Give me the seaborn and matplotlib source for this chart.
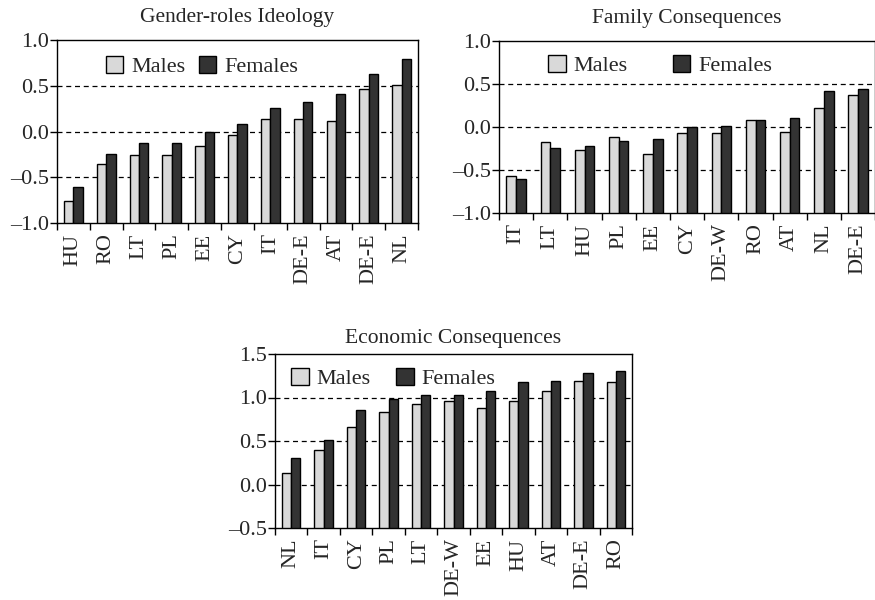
import numpy as np
import pandas as pd
import matplotlib
matplotlib.use("Agg")
import matplotlib.pyplot as plt
import seaborn as sns
from matplotlib.patches import Patch

sns.set_theme(style="white")
plt.rcParams['font.family'] = ['Liberation Serif', 'DejaVu Serif']

# ---- data ----
gender_labels = ["HU", "RO", "LT", "PL", "EE", "CY", "IT", "DE-E", "AT", "DE-E", "NL"]
gender_males = [-0.755, -0.35, -0.26, -0.26, -0.16, -0.04, 0.14, 0.14, 0.12, 0.47, 0.51]
gender_females = [-0.61, -0.245, -0.125, -0.125, 0.0, 0.08, 0.26, 0.325, 0.405, 0.63, 0.79]

family_labels = ["IT", "LT", "HU", "PL", "EE", "CY", "DE-W", "RO", "AT", "NL", "DE-E"]
family_males = [-0.565, -0.18, -0.265, -0.115, -0.31, -0.073, -0.073, 0.077, -0.054, 0.226, 0.375]
family_females = [-0.605, -0.24, -0.22, -0.16, -0.14, -0.005, 0.01, 0.077, 0.10, 0.42, 0.44]

econ_labels = ["NL", "IT", "CY", "PL", "LT", "DE-W", "EE", "HU", "AT", "DE-E", "RO"]
econ_males = [0.13, 0.40, 0.665, 0.83, 0.92, 0.96, 0.875, 0.96, 1.07, 1.195, 1.175]
econ_females = [0.30, 0.51, 0.855, 0.985, 1.03, 1.03, 1.07, 1.18, 1.195, 1.285, 1.305]

series_names = ["Males", "Females"]
colors = {"Males": "#d9d9d9", "Females": "#333333"}

fig = plt.figure(figsize=(8.75, 6.0), dpi=100)

FS = 16


def panel(rect, title, labels, males, females, ylim, yticks, grid, legend_anchor,
          colspace, title_pad):
    ax = fig.add_axes(rect)
    n = len(labels)
    df = pd.DataFrame({
        "pos": list(range(n)) * 2,
        "value": list(males) + list(females),
        "sex": ["Males"] * n + ["Females"] * n,
    })
    sns.barplot(data=df, x="pos", y="value", hue="sex", hue_order=series_names,
                palette=colors, width=0.57, edgecolor="black", linewidth=1.0,
                errorbar=None, ax=ax, legend=False, zorder=3)
    # bars rise from the bottom of the axis, as in the reference
    base = ylim[0]
    for p in ax.patches:
        top = p.get_y() + p.get_height()
        p.set_y(base)
        p.set_height(top - base)
    ax.set_xlim(-0.5, n - 0.5)
    ax.set_ylim(*ylim)
    ax.set_yticks(yticks)
    ax.set_yticklabels([("\u2013" if v < 0 else "") + f"{abs(v):.1f}" for v in yticks])
    ax.set_xticks(range(n))
    ax.set_xticklabels(labels, rotation=90)
    ax.set_xticks(np.arange(-0.5, n, 1.0), minor=True)
    ax.tick_params(axis="x", which="major", bottom=True, length=0, labelsize=FS, pad=7.5)
    ax.tick_params(axis="x", which="minor", bottom=True, length=5, width=1,
                   direction="out", color="black")
    ax.tick_params(axis="y", left=True, length=5, width=1, direction="out",
                   color="black", labelsize=FS, pad=1)
    for g in grid:
        ax.axhline(g, color="black", linestyle=(0, (4, 3)), linewidth=0.9, zorder=1)
    for s in ax.spines.values():
        s.set_color("black")
        s.set_linewidth(1.0)
    ax.set_xlabel("")
    ax.set_ylabel("")
    ax.set_title(title, fontsize=15.5, pad=title_pad)
    handles = [Patch(facecolor=colors[k], edgecolor="black", linewidth=1.0, label=k)
               for k in series_names]
    ax.legend(handles=handles, loc="upper left", bbox_to_anchor=legend_anchor, ncol=2,
              frameon=False, fontsize=FS, handlelength=0.8, handleheight=0.8,
              handletextpad=0.35, columnspacing=colspace, borderaxespad=0, borderpad=0)
    return ax


panel([0.0651, 0.6283, 0.4126, 0.305], "Gender-roles Ideology",
      gender_labels, gender_males, gender_females, (-1.0, 1.0),
      [-1.0, -0.5, 0.0, 0.5, 1.0], [-0.5, 0.0, 0.5], (0.135, 0.915), 0.6, 13)

panel([0.5703, 0.645, 0.4300, 0.2867], "Family Consequences",
      family_labels, family_males, family_females, (-1.0, 1.0),
      [-1.0, -0.5, 0.0, 0.5, 1.0], [-0.5, 0.0, 0.5], (0.13, 0.92), 2.03, 13)

panel([0.3143, 0.12, 0.408, 0.29], "Economic Consequences",
      econ_labels, econ_males, econ_females, (-0.5, 1.5),
      [-0.5, 0.0, 0.5, 1.0, 1.5], [0.0, 0.5, 1.0], (0.045, 0.92), 1.13, 8)

fig.savefig("out.png", dpi=100)
